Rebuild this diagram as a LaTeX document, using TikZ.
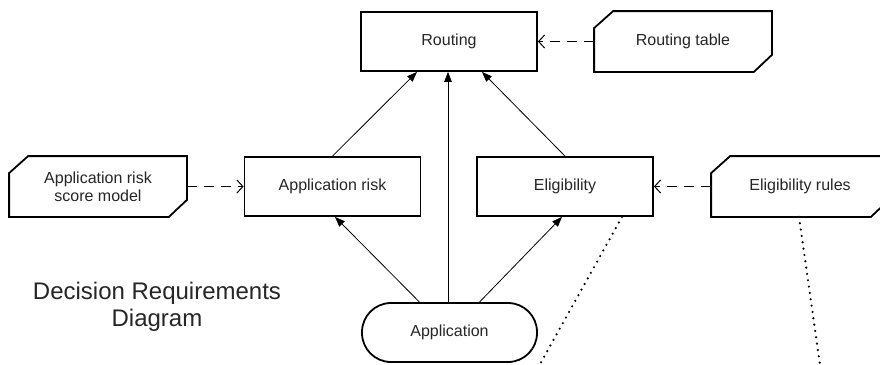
\documentclass[tikz,border=0pt]{standalone}
\usepackage{fontspec}
\setmainfont{Liberation Sans}
\usetikzlibrary{arrows.meta}
\definecolor{txt}{HTML}{262626}
\tikzset{
  boxline/.style={line width=1.8pt, line join=miter},
  decision/.style={draw, boxline, minimum width=176pt, minimum height=59pt, inner sep=0pt, font=\fontsize{16}{18.4}\selectfont, text=txt, align=center},
  dataobj/.style={decision, draw=none},
  inputdata/.style={decision, rounded corners=29pt},
  infoarrow/.style={line width=0.8pt, -{Triangle[length=10pt,width=7.5pt]}},
  knowarrow/.style={line width=1pt, dash pattern=on 10pt off 7pt, -{Straight Barb[length=6pt,width=13pt,line width=1pt]}},
  assoc/.style={line width=2.4pt, line cap=round, dash pattern=on 0pt off 6.4pt},
}
\newcommand{\chamferit}[1]{%
  \draw[boxline] ([xshift=19pt]#1.north west) -- (#1.north east) -- ([yshift=17pt]#1.south east) -- ([xshift=-18pt]#1.south east) -- (#1.south west) -- ([yshift=-17pt]#1.north west) -- cycle;}
\begin{document}
\begin{tikzpicture}[x=1pt,y=-1pt]
\useasboundingbox (0,0) rectangle (880,364);
\clip (0,0) rectangle (880,364);
\fill[white] (0,0) rectangle (880,364);
% decisions
\node[decision] (routing) at (449,41.5) {Routing};
\node[decision] (arisk) at (332.5,186.5) {Application risk};
\node[decision] (elig) at (565,186.5) {Eligibility};
% knowledge models
\node[dataobj] (rtable) at (683,41.5) {Routing table};
\node[dataobj] (model) at (98,186.5) {Application risk\\score model};
\node[dataobj] (rules) at (800,186.5) {Eligibility rules};
\chamferit{rtable}
\chamferit{model}
\chamferit{rules}
% input data
\node[inputdata, minimum width=175pt] (app) at (449.5,332.5) {Application};
% title
\node[anchor=north, align=center, inner sep=0pt, font=\fontsize{24}{27.5}\selectfont, text=txt] (title) at (157,281.5) {Decision Requirements\\Diagram};
% requirements
\draw[infoarrow] (arisk.north) -- ([xshift=-32pt]routing.south);
\draw[infoarrow] (elig.north) -- ([xshift=33pt]routing.south);
\draw[infoarrow] ([xshift=-1.5pt]app.north) -- ([xshift=-1pt]routing.south);
\draw[infoarrow] ([xshift=-30pt]app.north) -- ([xshift=2.5pt]arisk.south);
\draw[infoarrow] ([xshift=30pt]app.north) -- ([xshift=-3pt]elig.south);
\draw[knowarrow] (rtable.west) -- (routing.east);
\draw[knowarrow] (model.east) -- (arisk.west);
\draw[knowarrow] (rules.west) -- (elig.east);
% associations
\coordinate (offA) at (520,400);
\coordinate (offB) at (825,400);
\draw[assoc] ([xshift=57pt]elig.south) -- (offA);
\draw[assoc] ([xshift=-1pt]rules.south) -- (offB);
\end{tikzpicture}
\end{document}
